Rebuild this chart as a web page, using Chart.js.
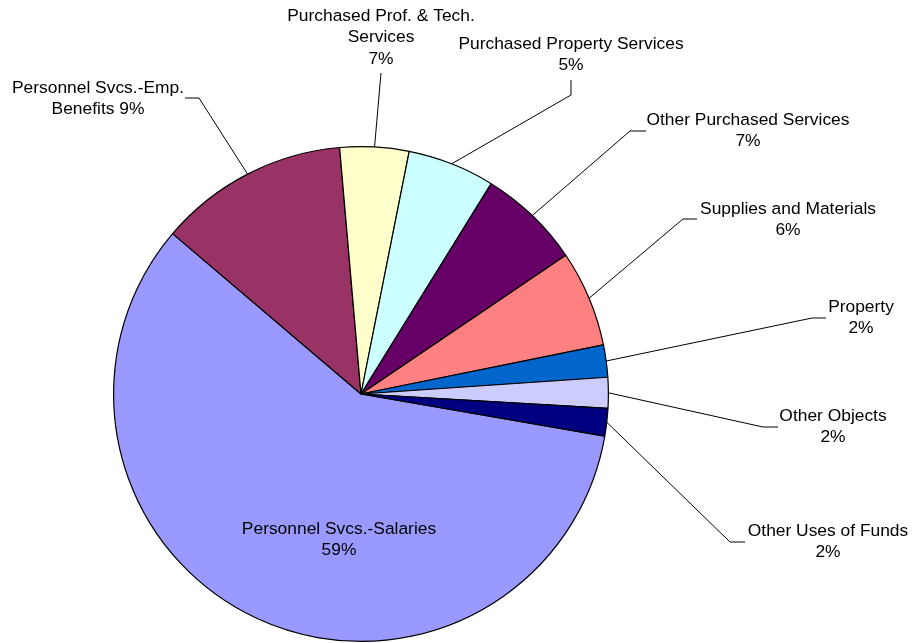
<!DOCTYPE html>
<html>
<head>
<meta charset="utf-8">
<script src="https://cdn.jsdelivr.net/npm/chart.js@4"></script>
<style>
  html, body { margin: 0; padding: 0; background: #fff; }
  #wrap { width: 912px; height: 643px; }
</style>
</head>
<body>
<div id="wrap"><canvas id="myChart"></canvas></div>
<script>
// data, in the order the slices run clockwise
var categories = ['Personnel Svcs.-Salaries', 'Personnel Svcs.-Emp. Benefits', 'Purchased Prof. & Tech. Services',
  'Purchased Property Services', 'Other Purchased Services', 'Supplies and Materials',
  'Property', 'Other Objects', 'Other Uses of Funds'];
var values = [58.5, 12.4, 4.5, 5.7, 6.7, 6.3, 2.1, 2.0, 1.8];
var labelText = ['Personnel Svcs.-Salaries\n59%', 'Personnel Svcs.-Emp.\nBenefits 9%', 'Purchased Prof. & Tech.\nServices\n7%',
  'Purchased Property Services\n5%', 'Other Purchased Services\n7%', 'Supplies and Materials\n6%',
  'Property\n2%', 'Other Objects\n2%', 'Other Uses of Funds\n2%'];

var colors = ['#9999FF', '#993366', '#FFFFCC', '#CCFFFF', '#660066', '#FF8080', '#0066CC', '#CCCCFF', '#000080'];

// where each label sits: leader line points (after the slice edge) and text centre
var labelLayout = [
  { line: null, x: 339, y: 529 },
  { line: [[199, 98], [185, 98]], x: 98, y: 88 },
  { line: [[381, 73]], x: 381, y: 16 },
  { line: [[571, 95], [571, 80]], x: 571, y: 44 },
  { line: [[630, 131], [646, 131]], x: 748, y: 120 },
  { line: [[683, 219], [697, 219]], x: 788, y: 209 },
  { line: [[812, 318], [826, 318]], x: 861, y: 307 },
  { line: [[763, 427], [778, 427]], x: 833, y: 416 },
  { line: [[730, 542], [745, 542]], x: 828, y: 531 }
];

var pieLabels = {
  id: 'pieLabels',
  afterDatasetsDraw: function(chart) {
    var ctx = chart.ctx;
    var arcs = chart.getDatasetMeta(0).data;
    ctx.save();
    arcs.forEach(function(arc, i) {
      var p = arc.getProps(['x', 'y', 'startAngle', 'endAngle', 'outerRadius'], true);
      var lay = labelLayout[i];
      if (lay.line) {
        var mid = (p.startAngle + p.endAngle) / 2;
        ctx.beginPath();
        ctx.moveTo(p.x + Math.cos(mid) * p.outerRadius, p.y + Math.sin(mid) * p.outerRadius);
        lay.line.forEach(function(pt) { ctx.lineTo(pt[0], pt[1]); });
        ctx.strokeStyle = '#000';
        ctx.lineWidth = 1;
        ctx.stroke();
      }
      ctx.fillStyle = '#000';
      ctx.font = '17.4px "Liberation Sans", Arial, sans-serif';
      ctx.textAlign = 'center';
      ctx.textBaseline = 'middle';
      labelText[i].split('\n').forEach(function(t, k) {
        ctx.fillText(t, lay.x, lay.y + k * 21.5);
      });
    });
    ctx.restore();
  }
};

var ctx = document.getElementById('myChart').getContext('2d');
var myChart = new Chart(ctx, {
  type: 'pie',
  data: {
    labels: categories,
    datasets: [{
      data: values,
      backgroundColor: colors,
      borderColor: '#000',
      borderWidth: 1.2
    }]
  },
  options: {
    responsive: true,
    maintainAspectRatio: false,
    animation: false,
    rotation: 99.8,
    layout: { padding: { left: 113, right: 303, top: 146, bottom: 1 } },
    plugins: {
      legend: { display: false },
      tooltip: { enabled: false }
    }
  },
  plugins: [pieLabels]
});
</script>
</body>
</html>
